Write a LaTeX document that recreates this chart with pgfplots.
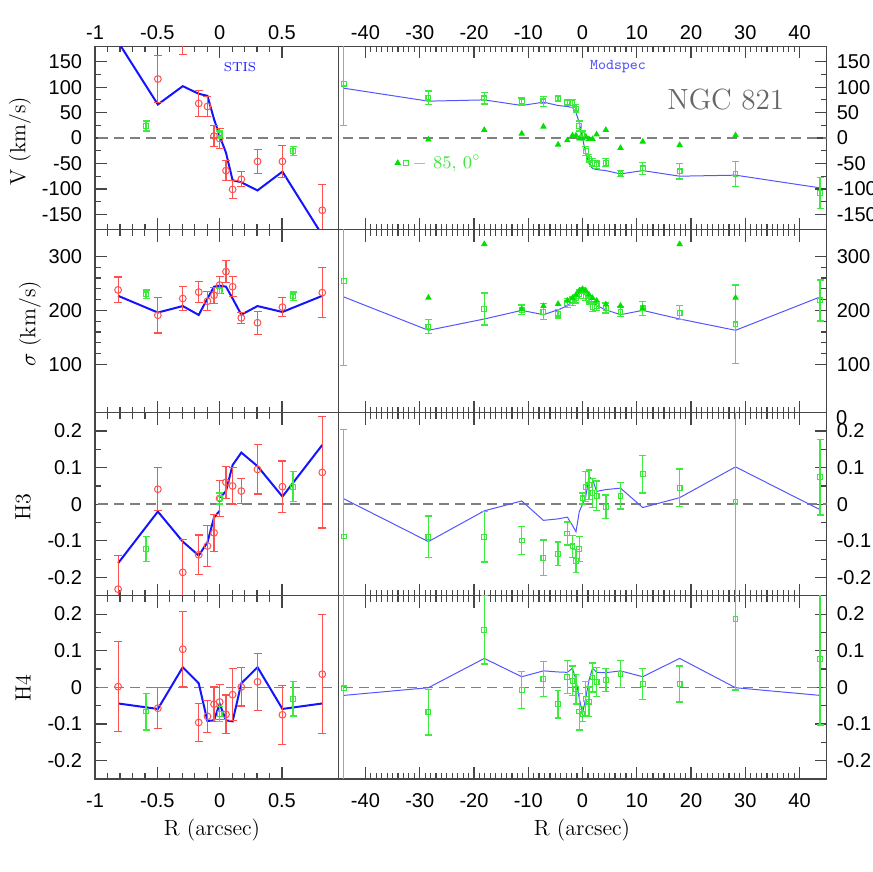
\documentclass[border=0pt]{standalone}
\usepackage{pgfplots}
\pgfplotsset{compat=1.18}
\usepackage{pgfplotstable}
\usepackage{fontspec}
\newfontfamily\tickfont{Liberation Sans}
\definecolor{sred}{RGB}{255,80,80}
\definecolor{sqgreen}{RGB}{60,230,60}
\definecolor{ebgreen}{RGB}{60,235,60}
\definecolor{tgreen}{RGB}{0,225,0}
\definecolor{lblue}{RGB}{20,20,255}
\definecolor{rblue}{RGB}{85,85,255}
\definecolor{framec}{RGB}{70,70,70}

\pgfplotstableread{
R V eV S eS H3 eH3 H4 eH4
-0.815 230 30 238 24 -0.232 0.092 0.002 0.123
-0.496 116 47 191 33 0.041 0.059 -0.057 0.056
-0.296 215 50 222 23 -0.186 0.089 0.104 0.103
-0.168 68 25 234 19 -0.138 0.054 -0.096 0.051
-0.098 62 20 217 18 -0.114 0.057 -0.079 0.044
-0.045 4 20 228 15 -0.078 0.051 -0.046 0.048
0.000 -1 20 247 16 0.016 0.050 -0.040 0.047
0.051 -64 19 272 21 0.060 0.044 -0.074 0.053
0.104 -101 18 244 19 0.050 0.051 -0.020 0.071
0.174 -81 15 186 10 0.036 0.035 0.001 0.052
0.304 -46 23 177 21 0.095 0.067 0.015 0.078
0.504 -46 32 206 18 0.048 0.070 -0.075 0.080
0.824 -142 51 233 47 0.087 0.152 0.036 0.162
}\stis

\pgfplotstableread{
R V eV S eS H3 eH3 H4 eH4
-44.0 107 82 255 157 -0.088 0.292 -0.003 0.5
-28.4 79.5 13 169.8 13 -0.089 0.057 -0.068 0.062
-18.1 78 11 202.6 30 -0.089 0.069 0.157 0.093
-11.2 72 7 201.3 9 -0.099 0.039 -0.007 0.05
-7.2 72 10 197.6 15 -0.146 0.048 0.023 0.048
-4.5 77.5 6 194 8 -0.135 0.032 -0.046 0.038
-2.8 69.7 6 213.7 8 -0.080 0.031 0.029 0.045
-1.85 68.3 8 216.7 8 -0.115 0.030 0.018 0.040
-1.2 57.9 8 222 8 -0.155 0.031 -0.005 0.040
-0.59 23.6 10 229.6 8 -0.122 0.034 -0.066 0.050
0 7 7 236.5 5 0.016 0.015 -0.073 0.020
0.59 -25.6 9 226 8 0.048 0.041 -0.031 0.047
1.2 -40.6 8 220 8 0.053 0.040 -0.039 0.040
1.85 -48.4 8 206 8 0.031 0.040 0.027 0.040
2.6 -51.8 8 208 8 0.023 0.040 0.015 0.040
4.3 -48.4 8 204.4 9 -0.007 0.032 0.020 0.031
7.0 -69.5 6 197.6 9 0.023 0.036 0.036 0.037
11.1 -59.6 11.5 203.7 13 0.082 0.051 0.009 0.042
17.9 -65.5 15.4 195.7 13 0.045 0.051 0.009 0.049
28.2 -70.8 24.6 174 73 0.007 0.5 0.187 0.194
43.8 -108 31 218.5 38 0.074 0.103 0.078 0.181
}\ms

\pgfplotstableread{
R V S
-28.4 -3 223.5
-18.1 15.8 323
-11.2 8.6 202.6
-7.2 22.4 208
-4.5 -13 212
-2.8 -4.5 218
-1.85 5 223
-1.2 5 229
-0.59 -1 236.5
0 -1 239.6
0.59 3 236.5
1.2 -2 229
1.85 -2 223
2.6 7 218
4.3 15.8 211
7.0 -19.7 208.7
11.1 -7.1 203.7
17.9 -13.8 323
28.2 5.3 223.5
}\tri

\pgfplotstableread{
R V S H4
-0.815 189 227 -0.044
-0.496 66 196 -0.059
-0.296 102 208 0.055
-0.168 87 191.5 0.011
-0.098 83 222 -0.092
-0.045 37 244 -0.090
0.000 4 246 -0.045
0.051 -29 244 -0.090
0.104 -83 222 -0.093
0.174 -87 192 0.011
0.304 -103 208 0.055
0.504 -66 197 -0.059
0.824 -191 227 -0.044
}\stismod

\pgfplotstableread{
R V S H3 H4
-44.0 98 225 0.015 -0.022
-28.4 72.5 163 -0.102 -0.001
-18.1 75 184 -0.018 0.079
-11.2 64 200 0.009 0.029
-7.2 70.5 192 -0.044 0.045
-4.5 64 201 -0.040 0.042
-2.8 62 208.7 -0.035 0.041
-1.85 60 215 -0.058 0.052
-1.2 50 225 -0.075 0.020
-0.59 30 234 -0.020 -0.030
0 0 238 0 -0.071
0.59 -30 234 0.020 -0.030
1.2 -50 225 0.075 0.020
1.85 -60 215 0.068 0.052
2.6 -62 208.7 0.035 0.041
4.3 -64 201 0.040 0.040
7.0 -70.5 192 0.044 0.045
11.1 -64 200 -0.009 0.029
17.9 -75 184 0.018 0.079
28.2 -73 163 0.102 -0.001
43.8 -98 225 -0.015 -0.022
}\msmod

\pgfplotsset{
  base/.style={scale only axis, anchor=south west, height=91.55pt,
    axis line style={line width=0.7pt, draw=framec},
    every tick/.style={line width=0.6pt, draw=framec},
    tick align=inside, major tick length=6pt, minor tick length=3pt,
    ticklabel style={font=\tickfont\fontsize{10}{12}\selectfont},
    /pgf/number format/assume math mode=true,
    xtick pos=both, clip=true},
  lp/.style={base, width=121.65pt, xmin=-1, xmax=0.953,
    xtick={-1,-0.5,0,0.5}, minor x tick num=4,
    ytick pos=left, yticklabel style={xshift=-3pt}},
  rp/.style={base, width=244.2pt, xmin=-45, xmax=45,
    xtick={-40,-30,...,40}, minor x tick num=9,
    ytick pos=right, yticklabel pos=right, yticklabel style={xshift=1.5pt}},
  toprow/.style={xticklabel pos=right},
  midrow/.style={xticklabels={}},
  botrow/.style={xticklabel pos=left, xticklabel style={yshift=-4pt}},
  vax/.style={ymin=-180, ymax=180, ytick={-150,-100,...,150}, minor y tick num=1},
  sax/.style={ymin=10, ymax=350, ytick={100,200,300}, minor y tick num=4},
  hax/.style={ymin=-0.25, ymax=0.25, ytick={-0.2,-0.1,0,0.1,0.2}, minor y tick num=1},
  zline/.style={black!50, line width=0.8pt, dash pattern=on 5pt off 3pt, forget plot},
  redpts/.style={only marks, mark=o, mark size=1.7pt, color=sred, mark options={solid, draw=sred, line width=0.5pt}, forget plot,
    error bars/y dir=both, error bars/y explicit,
    error bars/error bar style={solid, color=sred, line width=0.55pt},
    error bars/error mark=-,
    error bars/error mark options={solid, color=sred, rotate=90, mark size=2pt, line width=0.55pt}},
  grnpts/.style={only marks, mark=square, mark size=1.2pt, color=sqgreen, mark options={solid, draw=sqgreen, line width=0.55pt}, forget plot,
    error bars/y dir=both, error bars/y explicit,
    error bars/error bar style={solid, color=ebgreen, line width=0.75pt},
    error bars/error mark=-,
    error bars/error mark options={solid, color=ebgreen, rotate=90, mark size=1.7pt, line width=0.7pt}},
  tripts/.style={only marks, mark=triangle*, mark size=1.5pt, color=tgreen, mark options={solid, draw=tgreen, fill=tgreen}, forget plot},
  lmod/.style={color=lblue, solid, line width=1pt, no marks, forget plot},
  rmod/.style={color=rblue, solid, line width=0.5pt, no marks, forget plot},
}

\begin{document}
\begin{tikzpicture}
\useasboundingbox (0pt,0pt) rectangle (436pt,436pt);

% ---------- V ----------
\begin{axis}[lp, vax, toprow, at={(47.5pt,321.2pt)}]
\addplot[zline] coordinates {(-2,0) (2,0)};
\addplot[lmod] table[x=R, y=V] {\stismod};
\addplot[redpts] table[x=R, y=V, y error=eV] {\stis};
\addplot[grnpts] table[x=R, y=V, y error=eV] {\ms};
\end{axis}
\begin{axis}[rp, vax, toprow, at={(169.15pt,321.2pt)},
  legend style={at={(axis cs:-34.6,-49)}, anchor=west, draw=none, fill=none,
    inner sep=0pt, font=\fontsize{9}{10}\selectfont},
  legend cell align=left]
\addlegendimage{legend image code/.code={%
  \draw[tgreen, fill=tgreen] plot[only marks, mark=triangle*, mark size=1.5pt] coordinates {(0pt,0pt)};
  \draw[sqgreen, line width=0.55pt] plot[only marks, mark=square, mark size=1.2pt] coordinates {(4.2pt,0pt)};}}
\addlegendentry{\textcolor{sqgreen}{$-$ 85, 0$^\circ$}}
\addplot[zline] coordinates {(-50,0) (50,0)};
\addplot[rmod] table[x=R, y=V] {\msmod};
\addplot[tripts] table[x=R, y=V] {\tri};
\addplot[grnpts] table[x=R, y=V, y error=eV] {\ms};
\end{axis}

% ---------- sigma ----------
\begin{axis}[lp, sax, midrow, at={(47.5pt,229.65pt)}]
\addplot[lmod] table[x=R, y=S] {\stismod};
\addplot[redpts] table[x=R, y=S, y error=eS] {\stis};
\addplot[grnpts] table[x=R, y=S, y error=eS] {\ms};
\end{axis}
\begin{axis}[rp, sax, midrow, at={(169.15pt,229.65pt)}]
\addplot[rmod] table[x=R, y=S] {\msmod};
\addplot[grnpts] table[x=R, y=S, y error=eS] {\ms};
\addplot[tripts] table[x=R, y=S] {\tri};
\end{axis}

% ---------- H3 ----------
\begin{axis}[lp, hax, midrow, at={(47.5pt,138.1pt)}]
\addplot[zline] coordinates {(-2,0) (2,0)};
\addplot[lmod] coordinates {(-0.815,-0.161) (-0.496,-0.020) (-0.296,-0.102) (-0.168,-0.140) (-0.098,-0.104) (-0.045,-0.036) (0.0,-0.018)};
\addplot[lmod] coordinates {(0.004,0.018) (0.051,0.036) (0.104,0.107) (0.174,0.141) (0.304,0.104) (0.504,0.021) (0.824,0.162)};
\addplot[redpts] table[x=R, y=H3, y error=eH3] {\stis};
\addplot[grnpts] table[x=R, y=H3, y error=eH3] {\ms};
\end{axis}
\begin{axis}[rp, hax, midrow, at={(169.15pt,138.1pt)}]
\addplot[zline] coordinates {(-50,0) (50,0)};
\addplot[rmod] table[x=R, y=H3] {\msmod};
\addplot[grnpts] table[x=R, y=H3, y error=eH3] {\ms};
\end{axis}

% ---------- H4 ----------
\begin{axis}[lp, hax, botrow, at={(47.5pt,46.55pt)}]
\addplot[zline] coordinates {(-2,0) (2,0)};
\addplot[lmod] table[x=R, y=H4] {\stismod};
\addplot[redpts] table[x=R, y=H4, y error=eH4] {\stis};
\addplot[grnpts] table[x=R, y=H4, y error=eH4] {\ms};
\end{axis}
\begin{axis}[rp, hax, botrow, at={(169.15pt,46.55pt)}]
\addplot[zline] coordinates {(-50,0) (50,0)};
\addplot[rmod] table[x=R, y=H4] {\msmod};
\addplot[grnpts] table[x=R, y=H4, y error=eH4] {\ms};
\end{axis}

% ---------- labels ----------
\node[rotate=90, font=\fontsize{11}{13}\selectfont] at (10pt,365.5pt) {V (km/s)};
\node[rotate=90, font=\fontsize{11}{13}\selectfont] at (15pt,274pt) {$\sigma$ (km/s)};
\node[rotate=90, font=\fontsize{11}{13}\selectfont] at (11.5pt,182.5pt) {H3};
\node[rotate=90, font=\fontsize{11}{13}\selectfont] at (11.5pt,92pt) {H4};
\node[font=\fontsize{11}{13}\selectfont] at (106pt,21pt) {R (arcsec)};
\node[font=\fontsize{11}{13}\selectfont] at (291pt,21pt) {R (arcsec)};
\node[lblue, font=\fontsize{6.5}{8}\selectfont] at (120pt,402.7pt) {STIS};
\node[rblue, font=\ttfamily\fontsize{7.5}{9}\selectfont] at (309pt,402.7pt) {Modspec};
\node[black!60, font=\fontsize{14.6}{17}\selectfont] at (362.9pt,386pt) {NGC 821};
\node[anchor=west, font=\tickfont\fontsize{10}{12}\selectfont] at (414.5pt,227pt) {0};
\end{tikzpicture}
\end{document}
